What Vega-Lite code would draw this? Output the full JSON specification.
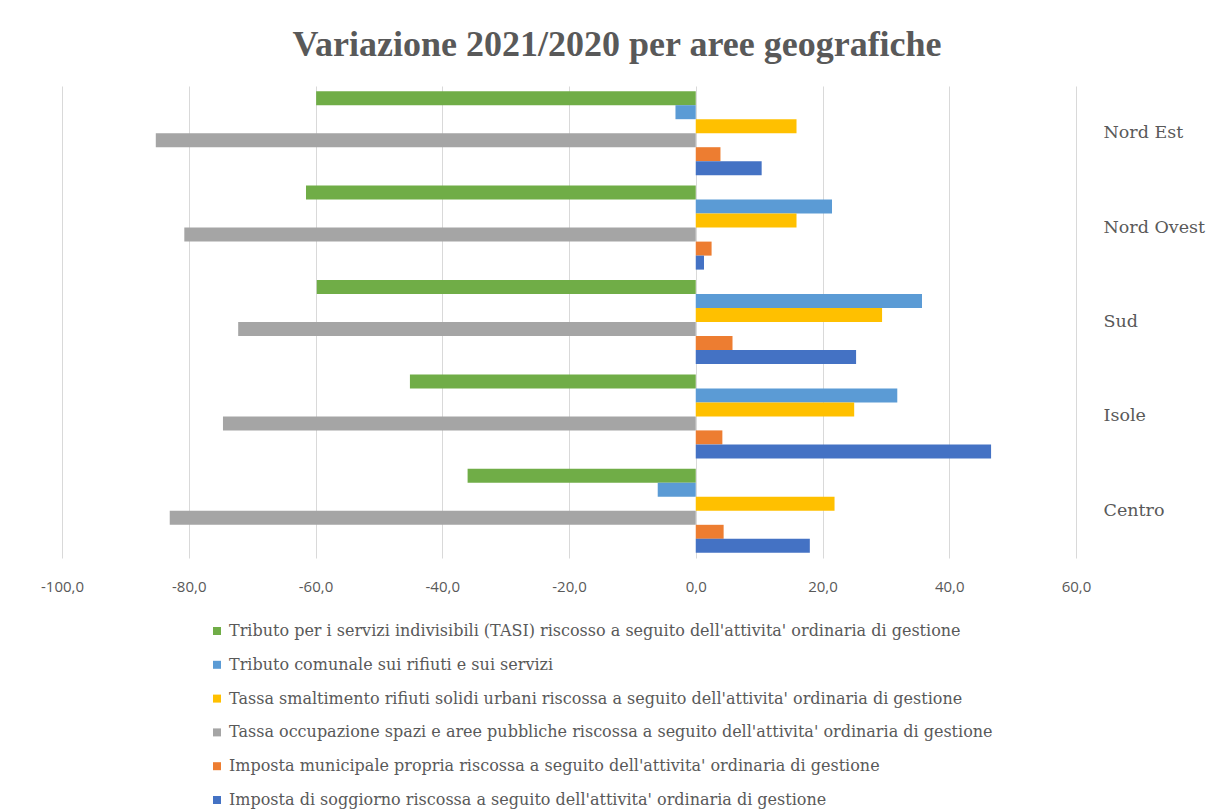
{
  "$schema": "https://vega.github.io/schema/vega-lite/v6.json",
  "autosize": {"type": "none"},
  "width": 1014,
  "height": 472,
  "padding": {"left": 62, "top": 86, "right": 150, "bottom": 254},
  "background": "white",
  "title": {
    "text": "Variazione 2021/2020 per aree geografiche",
    "font": "Liberation Serif",
    "fontSize": 36,
    "fontWeight": "bold",
    "color": "#595959",
    "anchor": "middle",
    "dx": 48,
    "offset": 22
  },
  "data": {
    "values": [
      {"area": "Nord Est", "serie": "Tributo per i servizi indivisibili (TASI) riscosso a seguito dell'attivita' ordinaria di gestione", "valore": -59.9},
      {"area": "Nord Est", "serie": "Tributo comunale sui rifiuti e sui servizi", "valore": -3.2},
      {"area": "Nord Est", "serie": "Tassa smaltimento rifiuti solidi urbani riscossa a seguito dell'attivita' ordinaria di gestione", "valore": 15.9},
      {"area": "Nord Est", "serie": "Tassa occupazione spazi e aree pubbliche riscossa a seguito dell'attivita' ordinaria di gestione", "valore": -85.2},
      {"area": "Nord Est", "serie": "Imposta municipale propria riscossa a seguito dell'attivita' ordinaria di gestione", "valore": 3.9},
      {"area": "Nord Est", "serie": "Imposta di soggiorno riscossa a seguito dell'attivita' ordinaria di gestione", "valore": 10.4},
      {"area": "Nord Ovest", "serie": "Tributo per i servizi indivisibili (TASI) riscosso a seguito dell'attivita' ordinaria di gestione", "valore": -61.5},
      {"area": "Nord Ovest", "serie": "Tributo comunale sui rifiuti e sui servizi", "valore": 21.5},
      {"area": "Nord Ovest", "serie": "Tassa smaltimento rifiuti solidi urbani riscossa a seguito dell'attivita' ordinaria di gestione", "valore": 15.9},
      {"area": "Nord Ovest", "serie": "Tassa occupazione spazi e aree pubbliche riscossa a seguito dell'attivita' ordinaria di gestione", "valore": -80.7},
      {"area": "Nord Ovest", "serie": "Imposta municipale propria riscossa a seguito dell'attivita' ordinaria di gestione", "valore": 2.5},
      {"area": "Nord Ovest", "serie": "Imposta di soggiorno riscossa a seguito dell'attivita' ordinaria di gestione", "valore": 1.3},
      {"area": "Sud", "serie": "Tributo per i servizi indivisibili (TASI) riscosso a seguito dell'attivita' ordinaria di gestione", "valore": -59.8},
      {"area": "Sud", "serie": "Tributo comunale sui rifiuti e sui servizi", "valore": 35.7},
      {"area": "Sud", "serie": "Tassa smaltimento rifiuti solidi urbani riscossa a seguito dell'attivita' ordinaria di gestione", "valore": 29.4},
      {"area": "Sud", "serie": "Tassa occupazione spazi e aree pubbliche riscossa a seguito dell'attivita' ordinaria di gestione", "valore": -72.2},
      {"area": "Sud", "serie": "Imposta municipale propria riscossa a seguito dell'attivita' ordinaria di gestione", "valore": 5.8},
      {"area": "Sud", "serie": "Imposta di soggiorno riscossa a seguito dell'attivita' ordinaria di gestione", "valore": 25.3},
      {"area": "Isole", "serie": "Tributo per i servizi indivisibili (TASI) riscosso a seguito dell'attivita' ordinaria di gestione", "valore": -45.1},
      {"area": "Isole", "serie": "Tributo comunale sui rifiuti e sui servizi", "valore": 31.8},
      {"area": "Isole", "serie": "Tassa smaltimento rifiuti solidi urbani riscossa a seguito dell'attivita' ordinaria di gestione", "valore": 25.0},
      {"area": "Isole", "serie": "Tassa occupazione spazi e aree pubbliche riscossa a seguito dell'attivita' ordinaria di gestione", "valore": -74.6},
      {"area": "Isole", "serie": "Imposta municipale propria riscossa a seguito dell'attivita' ordinaria di gestione", "valore": 4.2},
      {"area": "Isole", "serie": "Imposta di soggiorno riscossa a seguito dell'attivita' ordinaria di gestione", "valore": 46.6},
      {"area": "Centro", "serie": "Tributo per i servizi indivisibili (TASI) riscosso a seguito dell'attivita' ordinaria di gestione", "valore": -36.0},
      {"area": "Centro", "serie": "Tributo comunale sui rifiuti e sui servizi", "valore": -6.0},
      {"area": "Centro", "serie": "Tassa smaltimento rifiuti solidi urbani riscossa a seguito dell'attivita' ordinaria di gestione", "valore": 21.9},
      {"area": "Centro", "serie": "Tassa occupazione spazi e aree pubbliche riscossa a seguito dell'attivita' ordinaria di gestione", "valore": -83.0},
      {"area": "Centro", "serie": "Imposta municipale propria riscossa a seguito dell'attivita' ordinaria di gestione", "valore": 4.4},
      {"area": "Centro", "serie": "Imposta di soggiorno riscossa a seguito dell'attivita' ordinaria di gestione", "valore": 18.0}
    ]
  },
  "mark": {"type": "bar"},
  "encoding": {
    "y": {
      "field": "area",
      "type": "nominal",
      "sort": ["Nord Est", "Nord Ovest", "Sud", "Isole", "Centro"],
      "scale": {"paddingInner": 0.11, "paddingOuter": 0.055},
      "axis": {
        "orient": "right",
        "title": null,
        "domain": false,
        "ticks": false,
        "labelPadding": 27,
        "labelAlign": "left",
        "labelFont": "DejaVu Serif",
        "labelFontSize": 17.5,
        "labelColor": "#595959"
      }
    },
    "yOffset": {
      "field": "serie",
      "type": "nominal",
      "sort": [
        "Tributo per i servizi indivisibili (TASI) riscosso a seguito dell'attivita' ordinaria di gestione",
        "Tributo comunale sui rifiuti e sui servizi",
        "Tassa smaltimento rifiuti solidi urbani riscossa a seguito dell'attivita' ordinaria di gestione",
        "Tassa occupazione spazi e aree pubbliche riscossa a seguito dell'attivita' ordinaria di gestione",
        "Imposta municipale propria riscossa a seguito dell'attivita' ordinaria di gestione",
        "Imposta di soggiorno riscossa a seguito dell'attivita' ordinaria di gestione"
      ],
      "scale": {"paddingInner": 0, "paddingOuter": 0}
    },
    "x": {
      "field": "valore",
      "type": "quantitative",
      "scale": {"domain": [-100, 60], "nice": false, "zero": false},
      "axis": {
        "title": null,
        "values": [-100, -80, -60, -40, -20, 0, 20, 40, 60],
        "labelExpr": "replace(replace(format(datum.value, '.1f'), '.', ','), '\u2212', '-')",
        "labelFlush": false,
        "domain": false,
        "ticks": false,
        "labelPadding": 21,
        "labelFont": "Open Sans",
        "labelFontSize": 15,
        "labelColor": "#595959",
        "gridColor": "#d9d9d9",
        "gridWidth": 1
      }
    },
    "color": {
      "field": "serie",
      "type": "nominal",
      "sort": [
        "Tributo per i servizi indivisibili (TASI) riscosso a seguito dell'attivita' ordinaria di gestione",
        "Tributo comunale sui rifiuti e sui servizi",
        "Tassa smaltimento rifiuti solidi urbani riscossa a seguito dell'attivita' ordinaria di gestione",
        "Tassa occupazione spazi e aree pubbliche riscossa a seguito dell'attivita' ordinaria di gestione",
        "Imposta municipale propria riscossa a seguito dell'attivita' ordinaria di gestione",
        "Imposta di soggiorno riscossa a seguito dell'attivita' ordinaria di gestione"
      ],
      "scale": {"range": ["#70AD47", "#5B9BD5", "#FFC000", "#A5A5A5", "#ED7D31", "#4472C4"]},
      "legend": {
        "title": null,
        "orient": "none",
        "legendX": 147,
        "legendY": 537,
        "direction": "vertical",
        "symbolType": "square",
        "symbolSize": 64,
        "symbolStrokeWidth": 0,
        "labelFont": "DejaVu Serif",
        "labelFontSize": 16,
        "labelColor": "#595959",
        "labelLimit": 1000,
        "labelOffset": 4,
        "rowPadding": 17.8
      }
    }
  },
  "config": {
    "view": {"stroke": null}
  }
}
